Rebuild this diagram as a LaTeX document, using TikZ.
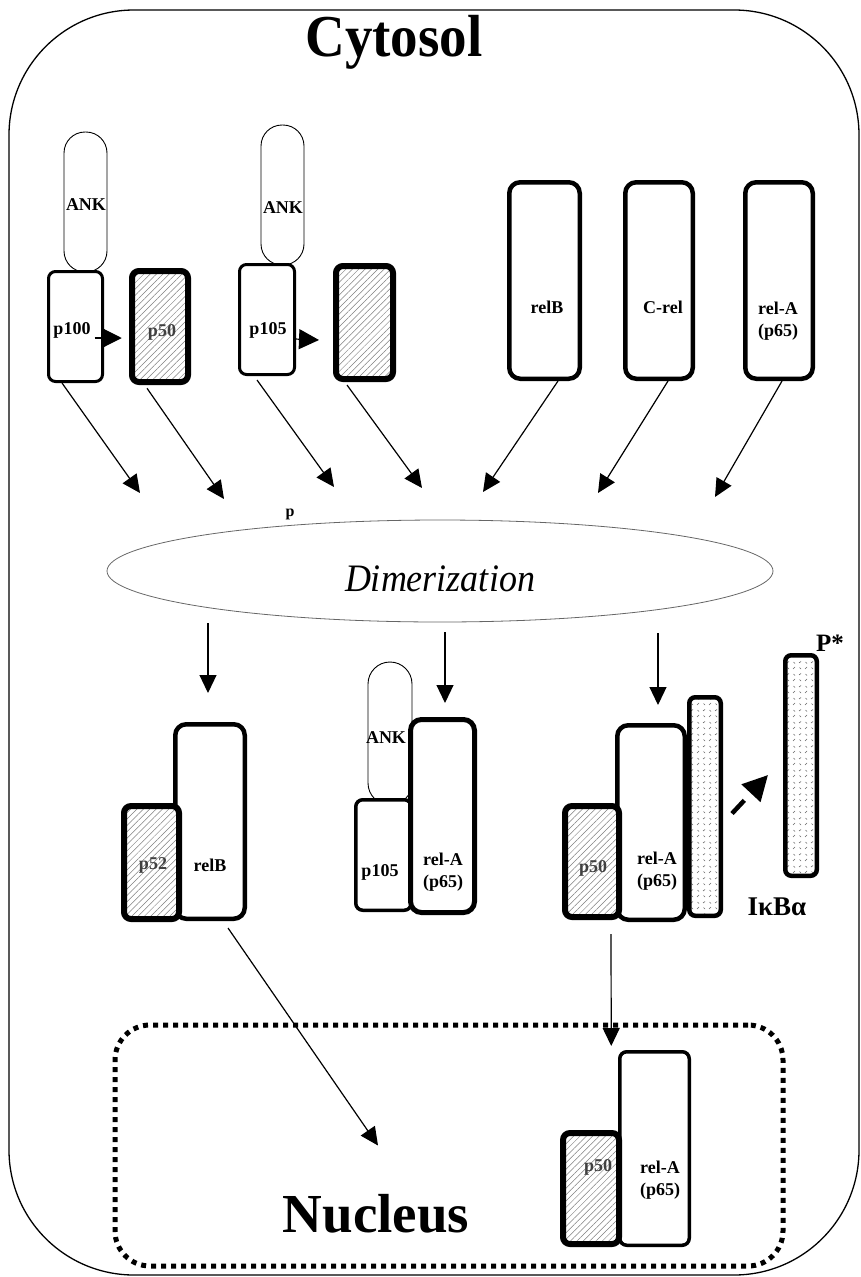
\documentclass[tikz,border=0pt]{standalone}
\usepackage{fontspec}
\setmainfont{Liberation Serif}
\usetikzlibrary{arrows.meta,shapes.geometric,patterns,patterns.meta}

% sparse tick texture used for the I-kappa-B bars
\tikzdeclarepattern{
  name=speckle,
  type=uncolored,
  bounding box={(-1pt,-1pt) and (13pt,13pt)},
  tile size={(12pt,12pt)},
  code={
    \draw[line width=0.6pt] (1pt,8pt) -- (3pt,10pt)
                            (7pt,2pt) -- (9pt,3.5pt)
                            (7.5pt,9.5pt) -- (9pt,8pt)
                            (1.5pt,3pt) -- (3pt,1.5pt);
  }
}

\begin{document}
\begin{tikzpicture}[x=1pt,y=-1pt,
  pill/.style={draw, fill=white, line width=0.9pt, rounded corners=21pt, inner sep=0pt},
  plain/.style={draw, fill=white, line width=3pt, rounded corners=7pt, inner sep=0pt},
  heavy/.style={draw, fill=white, line width=4.5pt, rounded corners=11pt, inner sep=0pt},
  hatch/.style={draw, line width=6pt, rounded corners=7pt, inner sep=0pt,
                preaction={fill=white},
                pattern={Lines[angle=45,distance=4.5pt,line width=0.5pt]},
                pattern color=black!50},
  ikb/.style={draw, line width=4.5pt, rounded corners=6pt, inner sep=0pt,
              preaction={fill=white}, pattern=speckle, pattern color=black!60},
  lbl/.style={font=\fontsize{18}{22}\selectfont\bfseries, align=center, inner sep=0pt},
  dimlbl/.style={lbl, text=black!75},
  arr/.style={line width=1.2pt, -{Triangle[length=18pt,width=17pt]}},
  bigarr/.style={line width=1.2pt, -{Triangle[length=20pt,width=20pt]}},
]
\useasboundingbox (0,0) rectangle (861,1277);

% cell outline and nucleus
\node[draw, line width=1.3pt, rounded corners=125pt, minimum width=850pt,
      minimum height=1265pt, inner sep=0pt] (cell) at (434,642.5) {};
\node[draw, line width=5pt, dash pattern=on 5pt off 5pt, rounded corners=35pt,
      minimum width=668pt, minimum height=241pt, inner sep=0pt] (nucleus) at (449,1145.5) {};

\node[font=\fontsize{55}{60}\selectfont\bfseries, anchor=base, inner sep=0pt, yscale=1.08] (cyto) at (394,56) {Cytosol};
\node[font=\fontsize{55}{60}\selectfont\bfseries, anchor=base, inner sep=0pt] (nuctext) at (376,1232) {Nucleus};

% precursors and free subunits
\node[pill, minimum width=43pt, minimum height=140pt] (ank1) at (85.5,202) {};
\node[lbl] (ank1t) at (86,205) {ANK};
\node[plain, minimum width=54pt, minimum height=110pt] (p100) at (75.5,326.5) {};
\node[lbl] (p100t) at (72,330) {p100};
\node[hatch, minimum width=56pt, minimum height=111pt] (p50a) at (160,326.5) {};
\node[dimlbl] (p50at) at (162,332) {p50};

\node[pill, minimum width=43pt, minimum height=140pt] (ank2) at (282.5,195) {};
\node[lbl] (ank2t) at (283,208) {ANK};
\node[plain, minimum width=55pt, minimum height=110pt] (p105) at (267,319.5) {};
\node[lbl] (p105t) at (268,330) {p105};
\node[hatch, minimum width=57pt, minimum height=113pt] (p50b) at (364.5,322.5) {};

\node[heavy, minimum width=70.5pt, minimum height=196.5pt] (relb) at (544.5,280.5) {};
\node[lbl] (relbt) at (547,307) {relB};
\node[heavy, minimum width=67.5pt, minimum height=196.5pt] (crel) at (659,280.5) {};
\node[lbl] (crelt) at (663,307) {C-rel};
\node[heavy, minimum width=67.5pt, minimum height=196.5pt] (rela) at (779,280.5) {};
\node[lbl] (relat) at (778,321) {rel-A\\(p65)};

% processing arrows
\draw[bigarr] ([xshift=-9.5pt,yshift=-11.5pt]p100.east) -- ([xshift=-10pt,yshift=-11.5pt]p50a.west);
\draw[bigarr] ([xshift=-1.5pt,yshift=-19.5pt]p105.east) -- ([xshift=-14pt,yshift=-17.5pt]p50b.west);

% arrows into dimerization
\coordinate (t1) at (140,493);
\coordinate (t2) at (224,499);
\coordinate (t3) at (334,487);
\coordinate (t4) at (422,488);
\coordinate (t5) at (483,492);
\coordinate (t6) at (598,493);
\coordinate (t7) at (715,497);
\draw[arr] ([xshift=-13.5pt]p100.south) -- (t1);
\draw[arr] ([xshift=-13pt,yshift=-6pt]p50a.south) -- (t2);
\draw[arr] ([xshift=-10pt,yshift=-4pt]p105.south) -- (t3);
\draw[arr] ([xshift=-17.5pt,yshift=-3pt]p50b.south) -- (t4);
\draw[arr] ([xshift=13.5pt]relb.south) -- (t5);
\draw[arr] ([xshift=9pt]crel.south) -- (t6);
\draw[arr] ([xshift=3pt]rela.south) -- (t7);

% dimerization
\node[ellipse, draw=black!60, line width=0.8pt, minimum width=666pt, minimum height=102pt,
      inner sep=0pt] (dimer) at (440,571) {};
\node[font=\fontsize{36}{40}\selectfont\itshape, inner sep=0pt, yscale=1.08] (dimtxt) at (440,579) {Dimerization};
\node[font=\fontsize{16}{18}\selectfont\bfseries, anchor=base, inner sep=0pt] (plbl) at (290,516) {p};

\coordinate (d1) at (208,693);
\coordinate (d2) at (445,703);
\coordinate (d3) at (658,705);
\draw[arr] ([xshift=-232pt,yshift=-1pt]dimer.south) -- (d1);
\draw[arr] ([xshift=5pt,yshift=-10pt]dimer.south) -- (d2);
\draw[arr] ([xshift=218pt,yshift=-11pt]dimer.south) -- (d3);

% p52 / relB dimer
\node[heavy, minimum width=69.5pt, minimum height=194.5pt] (relb2) at (210,821.5) {};
\node[hatch, minimum width=55pt, minimum height=113pt] (p52) at (151.5,862.5) {};
\node[dimlbl] (p52t) at (153,865) {p52};
\node[lbl] (relb2t) at (210,865) {relB};

% p105 / rel-A dimer
\node[pill, minimum width=44pt, minimum height=143pt, rounded corners=22pt] (ank3) at (390,733.5) {};
\node[lbl] (ank3t) at (386,738) {ANK};
\node[plain, line width=3.5pt, minimum width=55.5pt, minimum height=110.5pt] (p105b) at (383.5,855) {};
\node[heavy, line width=5pt, minimum width=64pt, minimum height=193pt] (rela2) at (442.5,816) {};
\node[lbl] (p105bt) at (380,872) {p105};
\node[lbl] (rela2t) at (443,872) {rel-A\\(p65)};

% p50 / rel-A dimer with I-kappa-B
\node[heavy, minimum width=67.5pt, minimum height=194.5pt] (rela3) at (651,822.5) {};
\node[hatch, minimum width=54pt, minimum height=111pt] (p50c) at (592,861.5) {};
\node[ikb, minimum width=31.5pt, minimum height=218.5pt] (ikb1) at (705,806.5) {};
\node[ikb, minimum width=31.5pt, minimum height=220.5pt] (ikb2) at (801,765.5) {};
\node[dimlbl] (p50ct) at (593,868) {p50};
\node[lbl] (rela3t) at (657,871.5) {rel-A\\(p65)};
\node[font=\fontsize{27}{30}\selectfont\bfseries, inner sep=0pt] (ikbt) at (777,907) {IκBα};
\node[font=\fontsize{25}{28}\selectfont\bfseries, anchor=base, inner sep=0pt] (pstar) at (830,651) {P*};
\draw[line width=4.5pt, dash pattern=on 18pt off 30pt, -{Triangle[length=25pt,width=25pt]}]
  ([xshift=9pt,yshift=-7pt]ikb1.east) -- ([xshift=-15pt,yshift=-9.5pt]ikb2.west);

% nuclear p50 / rel-A
\node[plain, line width=3.5pt, minimum width=69.5pt, minimum height=193.5pt] (rela4) at (654.5,1148.5) {};
\node[hatch, minimum width=56pt, minimum height=111pt] (p50d) at (591,1188.5) {};
\node[dimlbl] (p50dt) at (598,1167) {p50};
\node[lbl] (rela4t) at (660,1180) {rel-A\\(p65)};

% translocation
\draw[arr] ([xshift=-4pt,yshift=-12pt]rela3.south west) -- ([xshift=-6.75pt,yshift=4pt]rela4.north west);
\draw[arr] ([xshift=18pt,yshift=-7pt]relb2.south) -- ([xshift=-71pt]nucleus.center);

\end{tikzpicture}
\end{document}
